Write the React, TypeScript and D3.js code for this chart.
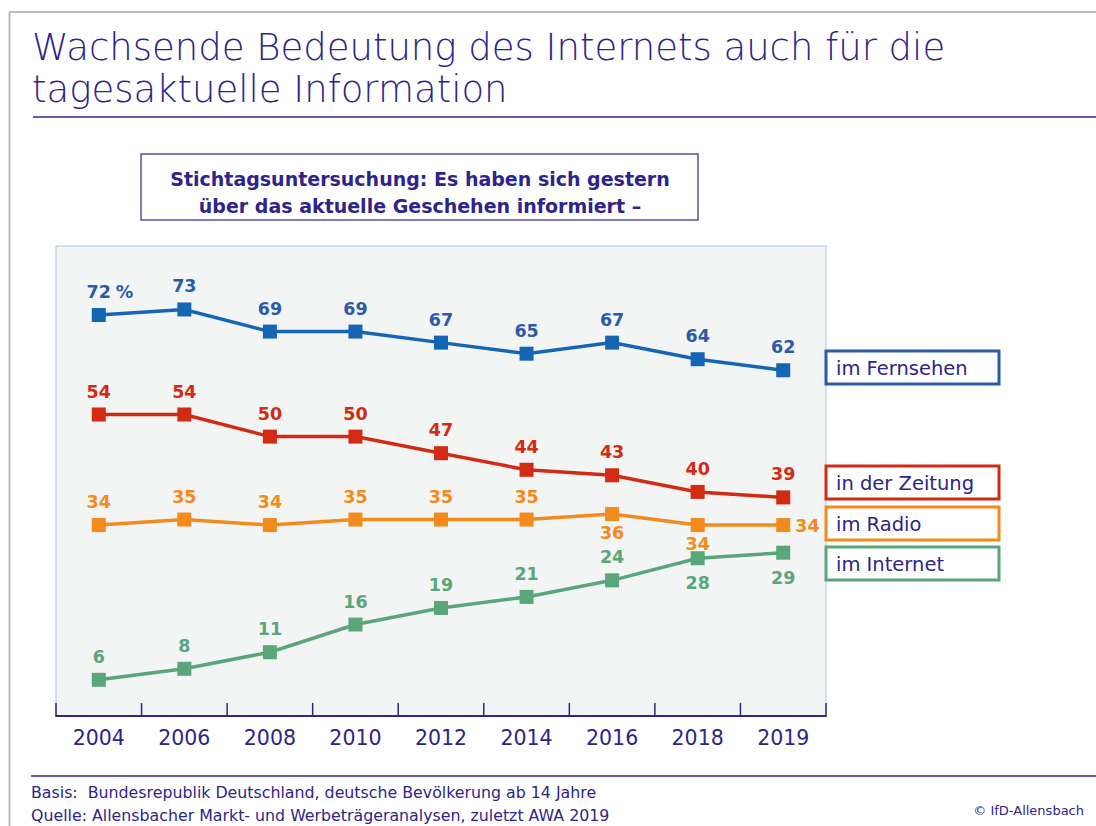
import { useEffect, useRef } from "react";
import * as d3 from "d3";

const years = ["2004", "2006", "2008", "2010", "2012", "2014", "2016", "2018", "2019"];

const fernsehen = [72, 73, 69, 69, 67, 65, 67, 64, 62];
const zeitung = [54, 54, 50, 50, 47, 44, 43, 40, 39];
const radio = [34, 35, 34, 35, 35, 35, 36, 34, 34];
const internet = [6, 8, 11, 16, 19, 21, 24, 28, 29];

// where each value label sits relative to its marker
const radioPlace = ["up", "up", "up", "up", "up", "up", "down", "down", "right"];
const internetPlace = ["up", "up", "up", "up", "up", "up", "up", "down", "down"];

const seriesNames = ["im Fernsehen", "in der Zeitung", "im Radio", "im Internet"];

const PURPLE = "#2e2489";
const FONT = "'DejaVu Sans', sans-serif";

const series = [
  { name: seriesNames[0], values: fernsehen, place: years.map(() => "up"), line: "#1565b5", text: "#2b5ba8", legendY: 351, down: 28 },
  { name: seriesNames[1], values: zeitung, place: years.map(() => "up"), line: "#d32a14", text: "#d32a14", legendY: 466, down: 28 },
  { name: seriesNames[2], values: radio, place: radioPlace, line: "#f28a1c", text: "#f28a1c", legendY: 507, down: 25 },
  { name: seriesNames[3], values: internet, place: internetPlace, line: "#5ba57b", text: "#5ba57b", legendY: 547, down: 31 },
];

const App = () => {
  const ref = useRef(null);

  useEffect(() => {
    const svg = d3.select(ref.current);
    svg.selectAll("*").remove();

    // outer frame
    svg.append("line").attr("x1", 9.5).attr("x2", 1096).attr("y1", 12).attr("y2", 12)
      .attr("stroke", "#bcbcbc").attr("stroke-width", 2);
    svg.append("line").attr("x1", 9.5).attr("x2", 9.5).attr("y1", 12).attr("y2", 826)
      .attr("stroke", "#bcbcbc").attr("stroke-width", 2);

    // title
    const title = svg.append("text").attr("fill", PURPLE)
      .style("font-family", FONT).style("font-size", "37px").style("font-weight", "300");
    title.append("tspan").attr("x", 32).attr("y", 60).text("Wachsende Bedeutung des Internets auch für die");
    title.append("tspan").attr("x", 32).attr("y", 102).text("tagesaktuelle Information");
    svg.append("line").attr("x1", 33).attr("x2", 1096).attr("y1", 117).attr("y2", 117)
      .attr("stroke", PURPLE).attr("stroke-width", 1.5);

    // subtitle box
    svg.append("rect").attr("x", 141).attr("y", 154).attr("width", 557).attr("height", 66)
      .attr("fill", "white").attr("stroke", PURPLE).attr("stroke-width", 1.2);
    const sub = svg.append("text").attr("text-anchor", "middle").attr("fill", PURPLE)
      .style("font-family", FONT).style("font-size", "19px").style("font-weight", "bold");
    sub.append("tspan").attr("x", 420).attr("y", 186).text("Stichtagsuntersuchung: Es haben sich gestern");
    sub.append("tspan").attr("x", 420).attr("y", 213).text("über das aktuelle Geschehen informiert –");

    // plot area
    const left = 56, right = 826, top = 246, bottom = 716;
    const x = d3.scaleBand().domain(years).range([left, right]);
    const y = d3.scaleLinear().domain([0, 72]).range([713, 315]);
    const cx = (yr) => x(yr) + x.bandwidth() / 2;

    svg.append("rect").attr("x", left).attr("y", top).attr("width", right - left).attr("height", bottom - top)
      .attr("fill", "#f3f5f5").attr("stroke", "#a9c4e6").attr("stroke-width", 1);

    // axis
    svg.append("line").attr("x1", left).attr("x2", right).attr("y1", bottom).attr("y2", bottom)
      .attr("stroke", PURPLE).attr("stroke-width", 2);
    const ticks = years.map((yr) => x(yr)).concat([right]);
    svg.append("g").selectAll("line").data(ticks).join("line")
      .attr("x1", (d) => d).attr("x2", (d) => d).attr("y1", 703).attr("y2", bottom + 1)
      .attr("stroke", PURPLE).attr("stroke-width", 1.5);
    svg.append("g").selectAll("text").data(years).join("text")
      .attr("x", (d) => cx(d)).attr("y", 745).attr("text-anchor", "middle").attr("fill", PURPLE)
      .style("font-family", FONT).style("font-size", "20.5px").text((d) => d);

    const line = d3.line().x((d, i) => cx(years[i])).y((d) => y(d));

    series.forEach((s) => {
      const g = svg.append("g");
      g.append("path").datum(s.values).attr("d", line).attr("fill", "none")
        .attr("stroke", s.line).attr("stroke-width", 3.5);
      g.selectAll("rect").data(s.values).join("rect")
        .attr("x", (d, i) => cx(years[i]) - 7).attr("y", (d) => y(d) - 7)
        .attr("width", 14).attr("height", 14).attr("fill", s.line);
      g.selectAll("text").data(s.values).join("text")
        .attr("x", (d, i) => (s.place[i] === "right" ? cx(years[i]) + 12 : cx(years[i])))
        .attr("y", (d, i) => {
          const p = s.place[i];
          if (p === "down") return y(d) + s.down;
          if (p === "right") return y(d) + 7;
          return y(d) - 17;
        })
        .attr("text-anchor", (d, i) => (s.place[i] === "right" ? "start" : "middle"))
        .attr("fill", s.text)
        .style("font-family", FONT).style("font-size", "17.5px").style("font-weight", "bold")
        .text((d) => d);

      // legend box
      svg.append("rect").attr("x", 826).attr("y", s.legendY).attr("width", 173).attr("height", 33)
        .attr("fill", "white").attr("stroke", s.text).attr("stroke-width", 3);
      svg.append("text").attr("x", 836).attr("y", s.legendY + 24).attr("fill", PURPLE)
        .style("font-family", FONT).style("font-size", "19.5px").text(s.name);
    });

    // percent sign after first value
    svg.append("text").attr("x", cx(years[0]) + 17).attr("y", y(fernsehen[0]) - 17)
      .attr("fill", series[0].text).style("font-family", FONT).style("font-size", "17.5px")
      .style("font-weight", "bold").text("%");

    // footer
    svg.append("line").attr("x1", 31).attr("x2", 1096).attr("y1", 776).attr("y2", 776)
      .attr("stroke", PURPLE).attr("stroke-width", 1.5);
    const foot = svg.append("text").attr("fill", PURPLE).style("font-family", FONT).style("font-size", "15.8px");
    foot.append("tspan").attr("x", 31).attr("y", 798).attr("xml:space", "preserve")
      .text("Basis:  Bundesrepublik Deutschland, deutsche Bevölkerung ab 14 Jahre");
    foot.append("tspan").attr("x", 31).attr("y", 821)
      .text("Quelle: Allensbacher Markt- und Werbeträgeranalysen, zuletzt AWA 2019");
    svg.append("text").attr("x", 1084).attr("y", 815).attr("text-anchor", "end").attr("fill", PURPLE)
      .style("font-family", FONT).style("font-size", "13px").text("© IfD-Allensbach");
  }, []);

  return (
    <svg ref={ref} width={1096} height={826} style={{ position: "absolute", left: 0, top: 0, background: "white" }} />
  );
};

export default App;
